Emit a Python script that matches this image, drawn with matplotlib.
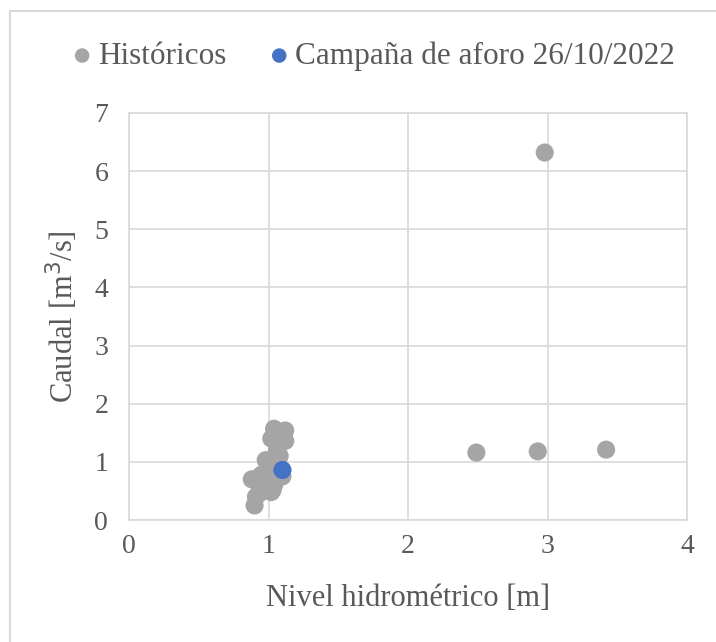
import matplotlib
matplotlib.use('Agg')
import matplotlib.pyplot as plt
from matplotlib.patches import Rectangle

# Historical gauging points (stage [m], discharge [m3/s])
hist_nivel = [1.04, 1.12, 1.02, 1.12, 1.06, 1.08, 0.98, 1.05, 1.08, 0.95,
              0.88, 0.92, 1.00, 1.04, 0.96, 0.93, 1.02, 0.91, 0.90, 1.05,
              1.07, 0.99, 1.03, 0.94, 1.10,
              2.49, 2.93, 2.98, 3.42]
hist_caudal = [1.57, 1.54, 1.40, 1.36, 1.20, 1.10, 1.03, 0.95, 0.90, 0.78,
               0.70, 0.65, 0.75, 0.60, 0.55, 0.45, 0.48, 0.40, 0.25, 0.70,
               0.80, 0.86, 0.52, 0.52, 0.75,
               1.16, 1.18, 6.32, 1.21]

# Campaign 26/10/2022
camp_nivel = [1.10]
camp_caudal = [0.86]

x_ticks = [0, 1, 2, 3, 4]
y_ticks = [0, 1, 2, 3, 4, 5, 6, 7]

plt.rcParams['font.family'] = ['Liberation Serif', 'DejaVu Serif']
text_color = '#595959'
grid_color = '#D9D9D9'

fig = plt.figure(figsize=(7.16, 6.42), dpi=100)
fig.patches.append(Rectangle((10 / 716, -0.1), 1.1, 1 - 11 / 642 + 0.1,
                             transform=fig.transFigure, fill=False,
                             edgecolor=grid_color, linewidth=1.5))

ax = fig.add_axes([129 / 716, 1 - 520 / 642, (687 - 129) / 716, (520 - 113) / 642])

ax.scatter(hist_nivel, hist_caudal, s=170, color='#A5A5A5', edgecolors='none',
           label='Históricos', zorder=3)
ax.scatter(camp_nivel, camp_caudal, s=170, color='#4472C4', edgecolors='none',
           label='Campaña de aforo 26/10/2022', zorder=4)

ax.set_xlim(0, 4)
ax.set_ylim(0, 7)
ax.set_xticks(x_ticks)
ax.set_yticks(y_ticks)
ax.grid(True, color=grid_color, linewidth=1.2, zorder=0)
for sp in ax.spines.values():
    sp.set_color(grid_color)
    sp.set_linewidth(1.2)
ax.tick_params(axis='y', length=0, labelsize=20, colors=text_color, pad=15)
ax.tick_params(axis='x', length=0, labelsize=20, colors=text_color, pad=10)

ax.set_xlabel('Nivel hidrométrico [m]', fontsize=22, color=text_color, labelpad=18)
ax.set_ylabel('Caudal [m$^3$/s]', fontsize=22, color=text_color, labelpad=10)

fig.legend(loc='center', bbox_to_anchor=(0.522, 1 - 56 / 642), ncol=2, frameon=False,
           fontsize=22.5, labelcolor=text_color, handletextpad=0.2, handlelength=0.6,
           columnspacing=1.4, markerscale=0.8)

plt.savefig('out.png', dpi=100)
